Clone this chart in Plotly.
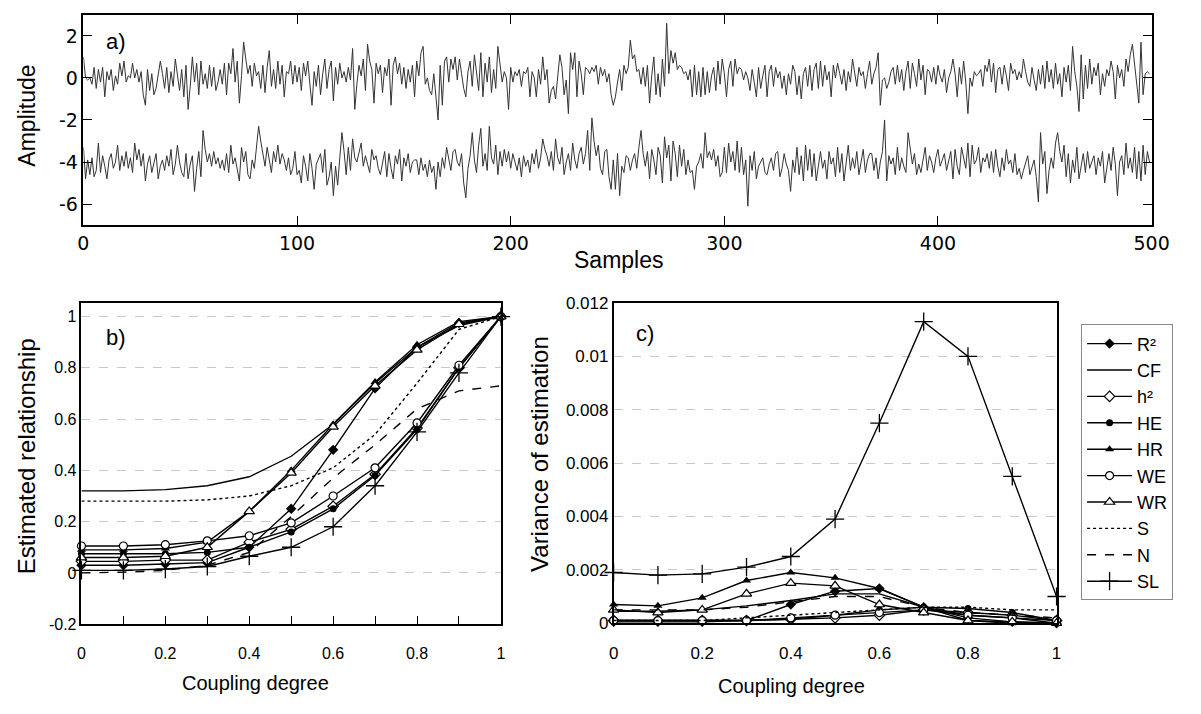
import plotly.graph_objects as go

W, H = 1201, 714


def px(x):
    return x / W


def py(y):
    return 1 - y / H


# ---------------- panel a data ----------------
samples = list(range(500))
signal_top = [
    1.0, 0.0, -0.1, 0.0, -0.3, 0.5, -0.5, 0.4, -0.2, 0.5,
    -0.9, 0.3, -0.1, 0.4, -0.6, 0.1, -0.3, 0.7, 0.1, 0.8,
    -0.2, 0.1, 0.0, 0.7, 0.0, 0.4, -0.2, 0.3, -0.8, -1.3,
    0.4, -0.6, 0.2, -0.8, -0.5, 0.1, 0.8, 0.2, -0.5, 0.5,
    -0.7, 0.3, -0.4, 0.9, 0.0, -0.6, 0.4, -0.9, 0.6, -1.5,
    -0.4, 1.0, -0.2, 0.7, -0.8, 0.8, -0.3, 0.2, -0.5, 0.6,
    -0.4, 0.5, -0.6, -0.2, 0.4, -0.3, 0.7, -0.8, 0.7, 0.2,
    1.4, -0.2, 0.8, -1.2, 0.1, 1.7, 0.9, 0.2, 0.6, -0.4,
    0.7, 0.1, 0.3, -0.5, 0.6, -0.7, 0.5, 1.3, -0.4, 0.4,
    -0.5, 0.8, -0.3, 0.6, -0.9, 0.3, 0.2, 0.8, -0.3, 0.6,
    -0.2, 0.5, -0.6, 0.7, 0.1, 0.8, -0.3, -1.3, 0.3, -0.4,
    0.6, -0.8, 0.2, 0.9, -0.5, 0.4, 0.8, -1.1, 0.5, -0.3,
    0.7, 0.0, 0.3, -0.2, 0.5, -0.1, 1.4, -1.5, -0.3, 0.6,
    0.1, 0.9, -0.6, 1.6, 0.8, 0.4, -1.2, 0.7, 0.2, 0.6,
    -0.7, 0.5, 0.1, 0.9, -1.3, 0.6, 1.0, 0.2, 0.7, -0.3,
    0.5, -0.5, 0.4, -0.2, 0.6, -0.9, 0.8, 0.1, 1.2, 1.5,
    -0.3, 0.0, -0.6, -0.8, 0.2, -1.1, -2.0, 0.6, -1.3, 0.8,
    1.0, -0.2, 0.9, 0.4, 1.0, -0.1, 0.9, 0.2, -0.5, -0.9,
    0.3, 0.8, -0.4, 1.1, 0.2, -0.6, 1.2, -0.9, 0.7, -0.2,
    1.0, -0.7, 0.4, -0.5, 1.5, 0.6, -0.2, 0.3, 0.0, -1.5,
    0.5, -0.2, 0.3, 0.1, 0.4, -0.4, 0.3, 0.2, 0.5, -0.9,
    0.3, 0.0, -0.9, 0.4, -0.3, 1.0, -0.1, 0.4, -1.2, -0.6,
    -0.4, -1.0, 0.0, 1.1, 0.5, -0.8, -0.1, -1.7, 1.2, 0.4,
    1.2, -0.9, 0.8, 0.2, -0.8, 0.5, 0.4, 0.2, 0.5, 0.3,
    0.6, -0.3, 0.5, 0.1, 0.4, -0.2, 0.2, -0.8, -1.3, -0.9,
    -0.2, 0.4, -0.6, 0.6, 0.2, 0.5, 1.8, 0.9, 1.1, 0.3,
    0.4, -0.3, 0.5, -0.4, 0.6, -1.2, 0.1, 1.0, -0.8, 0.2,
    -0.9, 0.9, -0.4, 2.6, 0.2, 1.3, 0.7, 1.2, 0.4, 0.6,
    0.5, 0.2, 0.3, -0.1, 0.4, -0.9, 0.6, -0.8, 0.3, -0.9,
    0.5, -0.8, 0.3, -0.7, 0.1, 0.5, -0.6, 0.8, -0.3, 0.9,
    0.2, -0.9, 0.4, 0.8, -0.4, 0.9, 0.2, 0.5, 0.4, -0.1,
    0.3, 0.0, -0.6, 0.4, -0.2, -0.9, 0.5, -0.5, 0.1, 0.6,
    -0.9, 0.3, 0.6, -0.4, 0.5, 0.0, 0.3, -0.5, 0.1, -0.8,
    0.2, -0.3, 0.6, 0.3, -0.8, 0.1, -1.0, 0.2, 0.5, -0.4,
    0.6, -0.6, 0.4, 0.7, -0.5, 0.8, -0.4, 0.6, -0.1, 0.3,
    -0.9, 0.6, 0.0, 0.7, 0.2, -0.3, 0.4, -0.6, 0.3, -0.2,
    0.9, 0.2, -0.4, 0.5, 0.1, 0.3, -0.5, 0.2, 0.8, -0.3,
    0.2, 0.5, 1.2, -1.3, -0.1, 0.0, -0.5, -0.2, 0.3, 0.5,
    -0.3, 0.6, -0.2, 0.4, -0.6, 0.3, 0.8, -0.5, 0.7, 0.2,
    -0.4, 0.9, -0.1, 0.6, -0.8, 0.4, 0.3, -0.2, 0.5, -0.3,
    0.6, 0.1, -0.2, 0.4, -0.7, 0.0, 0.3, 0.9, 0.2, -0.9,
    0.5, -0.3, 0.8, -0.2, -1.7, 0.0, -0.4, 0.3, 0.1, 0.2,
    0.4, -0.4, 0.6, 0.3, 0.9, -0.2, 0.7, -0.7, 0.4, 0.5,
    -0.3, 0.6, 0.1, -0.6, 0.7, 0.2, 0.4, -0.1, 0.3, 0.0,
    0.9, 0.3, -0.2, -0.4, 0.5, -0.1, -0.6, 0.4, -0.3, 0.6,
    -0.5, 0.8, -0.2, 0.4, -0.5, 0.7, -0.3, 0.2, -0.9, 0.5,
    -0.2, 0.6, -0.6, 1.5, 0.3, -0.4, -1.6, 1.1, -1.0, 0.6,
    -0.5, 0.9, -0.3, 0.5, 0.1, 0.7, -0.8, 0.2, -0.4, 0.4,
    0.1, 0.8, 0.3, -1.0, 0.6, 0.0, 0.4, -0.4, 0.9, 0.3,
    1.1, 1.6, 0.7, -0.5, -1.2, 1.7, -0.8, 0.2, 0.3, 0.2,
]
signal_bottom = [
    -3.3, -4.8, -3.9, -4.6, -3.8, -4.7, -4.4, -3.1, -4.5, -3.7,
    -4.2, -4.8, -3.9, -3.6, -4.3, -4.0, -3.2, -4.4, -3.7, -4.2,
    -3.5, -4.3, -3.8, -4.5, -3.1, -3.9, -3.4, -4.2, -3.6, -4.9,
    -4.1, -3.7, -4.5, -4.0, -3.6, -4.8, -4.2, -3.9, -4.4, -3.7,
    -4.2, -3.4, -4.6, -4.1, -3.2, -4.0, -4.5, -4.7, -3.6, -4.8,
    -4.1, -3.7, -5.4, -4.3, -3.5, -4.7, -2.5, -3.4, -4.0, -3.6,
    -4.2, -3.5, -4.1, -3.8, -4.3, -3.9, -4.4, -3.6, -4.5, -3.2,
    -4.1, -3.8, -4.4, -4.9, -3.3, -4.0, -3.5, -4.6, -4.8, -3.9,
    -4.3, -3.4, -2.3, -3.0, -3.6, -4.2, -3.3, -3.9, -4.5, -3.5,
    -4.0, -3.2, -4.1, -3.6, -3.9, -4.4, -3.8, -4.6, -4.3, -3.5,
    -4.6, -4.4, -5.0, -3.7, -4.2, -4.9, -3.6, -4.3, -5.3, -4.1,
    -3.8, -3.6, -4.5, -3.4, -5.1, -4.7, -4.0, -5.6, -4.2, -5.1,
    -3.8, -2.6, -3.5, -4.6, -3.3, -4.4, -2.9, -3.8, -4.0, -3.5,
    -3.1, -4.2, -3.7, -4.1, -4.5, -3.4, -3.9, -3.7, -4.3, -4.6,
    -4.0, -3.5, -4.7, -3.6, -4.3, -4.8, -3.7, -4.1, -3.4, -4.9,
    -3.8, -4.2, -3.6, -4.5, -4.0, -3.9, -3.9, -4.6, -3.8, -4.4,
    -4.1, -4.7, -3.9, -4.5, -4.2, -5.3, -4.0, -4.7, -3.8, -4.3,
    -3.3, -3.8, -4.4, -3.5, -3.4, -4.0, -4.2, -3.6, -5.0, -5.7,
    -4.3, -3.7, -2.6, -3.9, -4.5, -3.2, -2.4, -4.2, -3.6, -4.4,
    -2.3, -3.8, -4.1, -3.2, -4.6, -3.5, -4.2, -3.4, -4.0, -3.5,
    -4.3, -3.6, -4.0, -4.4, -3.8, -4.7, -3.7, -4.2, -3.9, -4.5,
    -3.6, -4.1, -3.4, -4.3, -3.8, -2.9, -3.4, -3.7, -4.2, -3.5,
    -4.4, -2.9, -3.8, -4.1, -3.3, -4.6, -4.0, -3.6, -4.4, -3.1,
    -3.9, -4.3, -3.6, -3.3, -4.1, -3.6, -2.5, -4.4, -1.9, -3.0,
    -3.7, -3.2, -4.3, -4.6, -3.5, -3.4, -4.7, -5.3, -3.9, -5.3,
    -3.6, -5.6, -4.2, -4.5, -3.7, -3.8, -4.4, -3.9, -3.6, -4.3,
    -3.3, -2.5, -3.6, -4.2, -3.5, -4.8, -3.4, -3.9, -4.6, -3.3,
    -3.7, -5.0, -2.8, -3.8, -3.2, -4.9, -3.0, -3.6, -4.7, -3.2,
    -4.2, -3.4, -4.6, -3.9, -4.5, -4.4, -5.3, -4.2, -4.0, -3.6,
    -4.3, -2.6, -3.8, -3.5, -3.9, -3.4, -4.2, -3.7, -4.7, -4.5,
    -3.3, -4.5, -3.1, -4.0, -3.5, -4.4, -3.0, -4.5, -3.3, -4.6,
    -3.9, -6.1, -3.7, -4.4, -3.5, -4.8, -4.2, -4.0, -3.8, -4.5,
    -4.6, -4.1, -3.8, -4.4, -3.6, -3.5, -4.7, -4.3, -3.6, -4.1,
    -4.4, -5.4, -3.9, -4.5, -3.3, -4.6, -3.7, -4.9, -3.2, -4.4,
    -3.4, -4.7, -3.6, -4.9, -4.2, -3.5, -4.3, -3.9, -4.8, -3.5,
    -4.1, -3.8, -4.7, -3.3, -4.5, -3.6, -4.9, -4.0, -3.2, -4.4,
    -3.8, -4.3, -3.5, -4.6, -4.0, -3.4, -4.5, -3.9, -3.6, -3.6,
    -4.4, -3.8, -4.8, -4.0, -3.5, -2.0, -4.9, -3.7, -4.1, -3.8,
    -4.6, -3.3, -4.4, -3.8, -4.2, -4.5, -2.6, -3.4, -4.1, -3.6,
    -4.6, -4.1, -4.5, -3.9, -3.3, -4.4, -3.7, -4.0, -4.5, -3.8,
    -3.4, -4.2, -3.9, -3.6, -4.4, -4.0, -3.5, -4.8, -3.4, -4.2,
    -4.6, -3.3, -3.8, -4.3, -3.1, -4.7, -3.2, -4.1, -3.9, -3.3,
    -4.5, -3.8, -4.0, -3.6, -4.3, -3.5, -4.5, -3.4, -4.2, -4.7,
    -3.8, -4.4, -3.4, -4.1, -3.9, -4.5, -3.6, -4.6, -4.3, -4.8,
    -4.4, -4.0, -3.7, -4.6, -4.2, -3.9, -4.7, -5.9, -2.6, -4.1,
    -3.5, -5.5, -4.4, -3.8, -4.3, -3.1, -2.6, -3.5, -4.0, -3.2,
    -4.7, -3.6, -5.0, -3.9, -4.5, -3.3, -4.8, -4.1, -3.6, -4.5,
    -3.5, -4.3, -4.0, -3.7, -4.6, -3.8, -4.2, -3.5, -5.0, -4.4,
    -3.6, -4.4, -3.3, -4.1, -5.6, -4.0, -3.7, -4.6, -3.1, -4.3,
    -3.8, -4.5, -3.3, -4.8, -3.5, -4.9, -3.2, -4.6, -3.5, -4.0,
]
a_xticks = [0, 100, 200, 300, 400, 500]
a_yticks = [2, 0, -2, -4, -6]
a_ytext = ["2", "0", "-2", "-4", "-6"]

# ---------------- panels b / c data ----------------
coupling = [0.0, 0.1, 0.2, 0.3, 0.4, 0.5, 0.6, 0.7, 0.8, 0.9, 1.0]
names = ["R²", "CF", "h²", "HE", "HR", "WE", "WR", "S", "N", "SL"]

est_R2 = [0.03, 0.03, 0.035, 0.04, 0.10, 0.25, 0.48, 0.72, 0.88, 0.975, 1.0]
est_CF = [0.32, 0.32, 0.325, 0.34, 0.375, 0.455, 0.58, 0.74, 0.88, 0.965, 1.0]
est_h2 = [0.045, 0.045, 0.05, 0.05, 0.12, 0.17, 0.26, 0.385, 0.565, 0.80, 1.0]
est_HE = [0.075, 0.075, 0.075, 0.08, 0.10, 0.16, 0.25, 0.38, 0.56, 0.80, 1.0]
est_HR = [0.09, 0.09, 0.095, 0.12, 0.24, 0.40, 0.58, 0.745, 0.89, 0.98, 1.0]
est_WE = [0.105, 0.105, 0.11, 0.125, 0.145, 0.195, 0.30, 0.41, 0.585, 0.81, 1.0]
est_WR = [0.06, 0.06, 0.065, 0.10, 0.24, 0.39, 0.57, 0.73, 0.87, 0.97, 1.0]
est_S = [0.28, 0.28, 0.28, 0.285, 0.30, 0.34, 0.41, 0.54, 0.74, 0.95, 1.0]
est_N = [0.0, 0.003, 0.01, 0.03, 0.08, 0.22, 0.37, 0.50, 0.64, 0.71, 0.73]
est_SL = [0.01, 0.01, 0.015, 0.025, 0.065, 0.10, 0.18, 0.34, 0.55, 0.78, 1.0]

var_R2 = [0.00005, 0.00005, 0.00005, 0.0001, 0.0007, 0.0012, 0.0013, 0.0006, 0.0002, 0.00005, 0.0]
var_CF = [0.00045, 0.00045, 0.0005, 0.00065, 0.00085, 0.0011, 0.0011, 0.0006, 0.0003, 0.0002, 0.0]
var_h2 = [0.0001, 0.0001, 0.0001, 0.0001, 0.00015, 0.0002, 0.0003, 0.0005, 0.0004, 0.0003, 0.0001]
var_HE = [0.0001, 0.0001, 0.0001, 0.0001, 0.00015, 0.0003, 0.0005, 0.0006, 0.00055, 0.0004, 0.0001]
var_HR = [0.0007, 0.00065, 0.00095, 0.0016, 0.0019, 0.0017, 0.0013, 0.0006, 0.0001, 0.0, 0.0]
var_WE = [0.0001, 0.0001, 0.0001, 0.0001, 0.0002, 0.0003, 0.0004, 0.0005, 0.0003, 0.0002, 0.0001]
var_WR = [0.0005, 0.0004, 0.0005, 0.0011, 0.0015, 0.0014, 0.0007, 0.0004, 0.0001, 0.00005, 0.0]
var_S = [0.0001, 0.0001, 0.0001, 0.0002, 0.0003, 0.0004, 0.0005, 0.0006, 0.0006, 0.0005, 0.0005]
var_N = [0.0005, 0.0005, 0.0005, 0.0006, 0.0008, 0.0010, 0.0010, 0.0006, 0.0004, 0.0003, 0.0002]
var_SL = [0.0019, 0.0018, 0.00185, 0.0021, 0.0025, 0.0039, 0.0075, 0.0113, 0.0100, 0.0055, 0.001]

est_series = [est_R2, est_CF, est_h2, est_HE, est_HR, est_WE, est_WR, est_S, est_N, est_SL]
var_series = [var_R2, var_CF, var_h2, var_HE, var_HR, var_WE, var_WR, var_S, var_N, var_SL]

b_xticks = [0, 0.1, 0.2, 0.3, 0.4, 0.5, 0.6, 0.7, 0.8, 0.9, 1.0]
b_xtext = ["0", "", "0.2", "", "0.4", "", "0.6", "", "0.8", "", "1"]
b_yticks = [-0.2, 0, 0.2, 0.4, 0.6, 0.8, 1]
b_ytext = ["-0.2", "0", "0.2", "0.4", "0.6", "0.8", "1"]
c_xticks = [0, 0.2, 0.4, 0.6, 0.8, 1]
c_xtext = ["0", "0.2", "0.4", "0.6", "0.8", "1"]
c_yticks = [0, 0.002, 0.004, 0.006, 0.008, 0.01, 0.012]
c_ytext = ["0", "0.002", "0.004", "0.006", "0.008", "0.01", "0.012"]

# ---------------- styles ----------------
K = "black"
styles = {
    "R²": dict(mode="lines+markers", marker=dict(symbol="diamond", size=8, color=K), dash="solid"),
    "CF": dict(mode="lines", marker=None, dash="solid"),
    "h²": dict(mode="lines+markers", marker=dict(symbol="diamond", size=8, color="white", line=dict(color=K, width=1.2)), dash="solid"),
    "HE": dict(mode="lines+markers", marker=dict(symbol="circle", size=7, color=K), dash="solid"),
    "HR": dict(mode="lines+markers", marker=dict(symbol="triangle-up", size=8, color=K), dash="solid"),
    "WE": dict(mode="lines+markers", marker=dict(symbol="circle", size=8, color="white", line=dict(color=K, width=1.2)), dash="solid"),
    "WR": dict(mode="lines+markers", marker=dict(symbol="triangle-up", size=9, color="white", line=dict(color=K, width=1.2)), dash="solid"),
    "S": dict(mode="lines", marker=None, dash="dot"),
    "N": dict(mode="lines", marker=None, dash="dash"),
    "SL": dict(mode="lines+markers", marker=dict(symbol="cross-thin-open", size=13, color=K, line=dict(color=K, width=1.3)), dash="solid"),
}

fig = go.Figure()

# panel a
for sig in (signal_top, signal_bottom):
    fig.add_trace(go.Scatter(x=samples, y=sig, mode="lines", line=dict(color="#333333", width=1),
                             showlegend=False, xaxis="x", yaxis="y", hoverinfo="skip"))

for name, ys in zip(names, est_series):
    st = styles[name]
    kw = dict(x=coupling, y=ys, mode=st["mode"], name=name,
              line=dict(color=K, width=1.4, dash=st["dash"]),
              showlegend=False, xaxis="x2", yaxis="y2", cliponaxis=False)
    if st["marker"]:
        kw["marker"] = st["marker"]
    fig.add_trace(go.Scatter(**kw))

for name, ys in zip(names, var_series):
    st = styles[name]
    kw = dict(x=coupling, y=ys, mode=st["mode"], name=name,
              line=dict(color=K, width=1.4, dash=st["dash"]),
              showlegend=True, xaxis="x3", yaxis="y3", cliponaxis=False)
    if st["marker"]:
        kw["marker"] = st["marker"]
    fig.add_trace(go.Scatter(**kw))

FONT = "Liberation Sans, Arial, sans-serif"
NARROW = "Liberation Sans Narrow, Arial Narrow, Liberation Sans, sans-serif"
WIDE = "DejaVu Sans, Verdana, sans-serif"
GRID = "#c8c8c8"

box = dict(showline=True, linecolor=K, linewidth=1.5, mirror=True, zeroline=False)
box_ticks = dict(showline=True, linecolor=K, linewidth=1.5, mirror="ticks", zeroline=False)

fig.update_layout(
    width=W, height=H, autosize=False,
    margin=dict(l=0, r=0, t=0, b=0),
    paper_bgcolor="white", plot_bgcolor="white",
    font=dict(family=FONT, color=K),
    showlegend=True,
    legend=dict(x=px(1097), y=py(324), xanchor="left", yanchor="top",
                bordercolor="#888888", borderwidth=1, bgcolor="white",
                itemwidth=45,
                font=dict(family=FONT, size=18, color=K), tracegroupgap=0),
    xaxis=dict(domain=[px(79), px(1169)], range=[0, 500], anchor="y",
               tickvals=a_xticks, ticks="inside", ticklen=9, tickcolor=K,
               tickfont=dict(family=WIDE, size=19), showgrid=False, **box_ticks),
    yaxis=dict(domain=[py(222), py(6)], range=[-7, 3], anchor="x",
               tickvals=a_yticks, ticktext=a_ytext, ticks="inside", ticklen=9, tickcolor=K,
               tickfont=dict(family=WIDE, size=19), showgrid=False, **box_ticks),
    xaxis2=dict(domain=[px(77), px(505)], range=[0, 1], anchor="y2",
                tickvals=b_xticks, ticktext=b_xtext, ticks="inside", ticklen=8, tickcolor=K,
                tickfont=dict(family=NARROW, size=16), ticklabelstandoff=14, showgrid=False, **box),
    yaxis2=dict(domain=[py(632), py(302)], range=[-0.2, 1.053], anchor="x2",
                tickvals=b_yticks, ticktext=b_ytext, ticks="",
                tickfont=dict(family=NARROW, size=16), showgrid=True, gridcolor=GRID,
                griddash="dash", gridwidth=1, **box),
    xaxis3=dict(domain=[px(620), px(1072)], range=[0, 1], anchor="y3",
                tickvals=c_xticks, ticktext=c_xtext, ticks="",
                tickfont=dict(family=FONT, size=17), ticklabelstandoff=14, showgrid=False, **box),
    yaxis3=dict(domain=[py(631), py(302)], range=[0, 0.012], anchor="x3",
                tickvals=c_yticks, ticktext=c_ytext, ticks="",
                tickfont=dict(family=FONT, size=17), showgrid=True, gridcolor=GRID,
                griddash="dash", gridwidth=1, **box),
)

annotations = [
    dict(text="Amplitude", x=px(21), y=py(110), textangle=-90, size=23),
    dict(text="Samples", x=px(625), y=py(258), textangle=0, size=23),
    dict(text="Estimated relationship", x=px(21), y=py(460), textangle=-90, size=24),
    dict(text="Coupling degree", x=px(255), y=py(692), textangle=0, size=20),
    dict(text="Variance of estimation", x=px(545), y=py(457), textangle=-90, size=24),
    dict(text="Coupling degree", x=px(802), y=py(696), textangle=0, size=20),
    dict(text="a)", x=px(112), y=py(33), textangle=0, size=22),
    dict(text="b)", x=px(112), y=py(337), textangle=0, size=22),
    dict(text="c)", x=px(652), y=py(333), textangle=0, size=22),
]
fig.update_layout(annotations=[
    dict(text=a["text"], x=a["x"], y=a["y"], xref="paper", yref="paper",
         xanchor="center", yanchor="middle", showarrow=False, textangle=a["textangle"],
         font=dict(family=FONT, size=a["size"], color=K))
    for a in annotations
])

# make the figure fill the browser viewport exactly (no body margin, no scrollbars)
fit_script = """
document.documentElement.style.overflow = 'hidden';
document.body.style.margin = '0';
document.body.style.overflow = 'hidden';
var gd = document.getElementById('{plot_id}');
var w = document.documentElement.clientWidth, h = document.documentElement.clientHeight;
if (w > 200 && h > 200) {
    gd.style.width = w + 'px';
    gd.style.height = h + 'px';
    Plotly.relayout(gd, {width: w, height: h});
}
"""

fig.write_html("out.html", config={"displayModeBar": False}, post_script=fit_script)
